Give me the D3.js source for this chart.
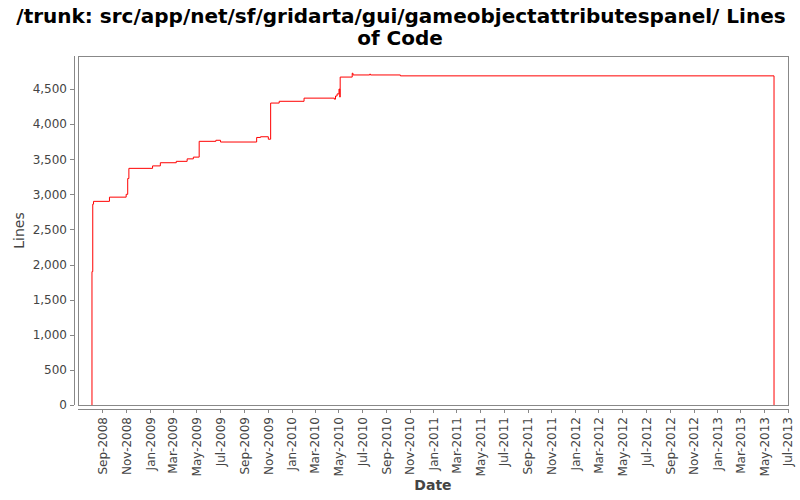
<!DOCTYPE html>
<html>
<head>
<meta charset="utf-8">
<script src="https://cdn.jsdelivr.net/npm/d3@7"></script>
<style>
  body { margin: 0; background: #fff; }
  text { font-family: "DejaVu Sans", sans-serif; }
</style>
</head>
<body>
<div id="chart"></div>
<script>
// lines of code over time (step chart)
const dates = [
  "2008-08-05", "2008-08-05", "2008-08-07", "2008-08-09", "2008-09-19",
  "2008-11-01", "2008-11-05", "2008-11-08", "2009-01-08", "2009-01-28",
  "2009-03-10", "2009-04-07", "2009-04-23", "2009-05-08", "2009-06-20",
  "2009-07-02", "2009-10-03", "2009-10-13", "2009-11-02", "2009-11-08",
  "2009-11-30", "2010-02-02", "2010-04-21", "2010-04-24", "2010-04-28",
  "2010-05-03", "2010-05-05", "2010-05-06", "2010-06-06", "2010-06-08",
  "2010-07-21", "2010-07-23", "2010-10-08", "2013-05-27"
];
const lines = [
  0, 1900, 2860, 2900, 2960,
  3000, 3225, 3370, 3405, 3450,
  3470, 3505, 3530, 3755, 3770,
  3745, 3810, 3820, 3785, 4300,
  4325, 4370, 4355, 4400, 4430,
  4500, 4385, 4670, 4725, 4700,
  4712, 4700, 4687, 0
];
const yTicks = [0, 500, 1000, 1500, 2000, 2500, 3000, 3500, 4000, 4500];
const xTickStart = "2008-09-01", xTickEnd = "2013-07-02";
const xDomain = ["2008-06-30", "2013-07-02"];
const yMax = 4970;

const parse = d3.timeParse("%Y-%m-%d");
const data = dates.map((d, i) => ({date: parse(d), value: lines[i]}));

const width = 800, height = 500;
const margin = {top: 56, right: 12, bottom: 95, left: 78};
const innerW = width - margin.left - margin.right,
      innerH = height - margin.top - margin.bottom;

const svg = d3.select("#chart")
  .append("svg")
  .attr("width", width)
  .attr("height", height);

// title
svg.append("text")
  .attr("x", 401)
  .attr("y", 23)
  .attr("text-anchor", "middle")
  .style("font-size", "20px")
  .style("font-weight", "bold")
  .text("/trunk: src/app/net/sf/gridarta/gui/gameobjectattributespanel/ Lines");
svg.append("text")
  .attr("x", 400)
  .attr("y", 45)
  .attr("text-anchor", "middle")
  .style("font-size", "20px")
  .style("font-weight", "bold")
  .text("of Code");

const g = svg.append("g")
  .attr("transform", `translate(${margin.left}, ${margin.top})`);

const x = d3.scaleTime()
  .domain(xDomain.map(parse))
  .range([0, innerW]);

const y = d3.scaleLinear()
  .domain([0, yMax])
  .range([innerH, 0]);

// plot outline
g.append("rect")
  .attr("width", innerW)
  .attr("height", innerH)
  .attr("fill", "#fff")
  .attr("stroke", "#888")
  .attr("stroke-width", 1)
  .attr("shape-rendering", "crispEdges");

// y axis (offset 4px left)
const yAxis = g.append("g")
  .attr("transform", "translate(-4, 0)")
  .call(d3.axisLeft(y).tickValues(yTicks).tickSize(4).tickPadding(3)
    .tickFormat(d3.format(",")));
yAxis.selectAll("path, line").attr("stroke", "#888").attr("shape-rendering", "crispEdges");
yAxis.select(".domain").attr("d", `M0,0V${innerH}`);
yAxis.selectAll("text").attr("fill", "#444").style("font-size", "12px");

// x axis (offset 4px below)
const xTicks = d3.timeMonth.every(2).range(parse(xTickStart), parse(xTickEnd));
const xAxis = g.append("g")
  .attr("transform", `translate(0, ${innerH + 4})`)
  .call(d3.axisBottom(x).tickValues(xTicks).tickSize(4)
    .tickFormat(d3.timeFormat("%b-%Y")));
xAxis.selectAll("path, line").attr("stroke", "#888").attr("shape-rendering", "crispEdges");
xAxis.select(".domain").attr("d", `M0,0H${innerW}`);
xAxis.selectAll("text")
  .attr("fill", "#444")
  .style("font-size", "12px")
  .attr("text-anchor", "end")
  .attr("transform", "rotate(-90)")
  .attr("x", -8)
  .attr("y", 0)
  .attr("dy", "0.35em");

// axis titles
svg.append("text")
  .attr("transform", `translate(24, ${margin.top + innerH / 2}) rotate(-90)`)
  .attr("text-anchor", "middle")
  .attr("fill", "#444")
  .style("font-size", "14px")
  .text("Lines");

svg.append("text")
  .attr("x", margin.left + innerW / 2)
  .attr("y", 490)
  .attr("text-anchor", "middle")
  .attr("fill", "#444")
  .style("font-size", "14px")
  .style("font-weight", "bold")
  .text("Date");

// step line
const line = d3.line()
  .x(d => x(d.date))
  .y(d => y(d.value))
  .curve(d3.curveStepAfter);

g.append("path")
  .datum(data)
  .attr("fill", "none")
  .attr("stroke", "#ff0000")
  .attr("stroke-width", 1)
  .attr("d", line);
</script>
</body>
</html>
